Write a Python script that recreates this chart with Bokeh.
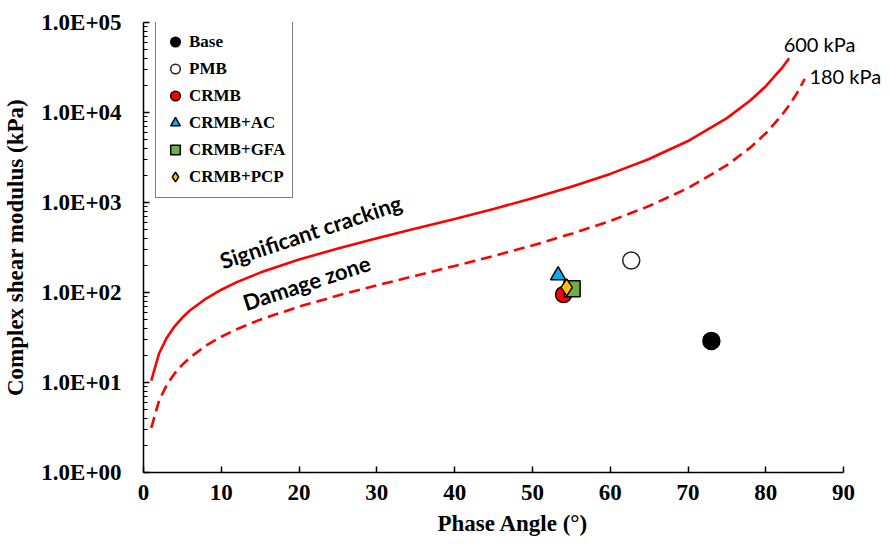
from bokeh.plotting import figure
from bokeh.models import Range1d, CustomJSTickFormatter, LogTicker, FixedTicker, Legend, LegendItem, Label
from bokeh.embed import file_html
from bokeh.resources import INLINE

# Curve 600 kPa (phase angle, complex shear modulus kPa)
ang600 = [1, 2, 3, 4, 5, 6, 8, 10, 12, 15, 20, 25, 30, 35, 40, 45, 50, 55, 60, 65, 70, 75, 78, 80, 82, 83]
g600 = [10.5, 21.0, 31.5, 42.1, 52.7, 63.4, 85.2, 107.4, 130.4, 166.4, 232.4, 308.7, 400, 512.9, 657.2, 848.5,
        1112, 1494, 2079, 3045, 4820, 8652, 13577, 19595, 30676, 40098]
# Curve 180 kPa
ang180 = [1, 2, 3, 4, 5, 6, 8, 10, 12, 15, 20, 25, 30, 35, 40, 45, 50, 55, 60, 65, 70, 75, 78, 80, 82, 83, 84, 85]
g180 = [3.14, 6.29, 9.45, 12.6, 15.8, 19.0, 25.6, 32.2, 39.1, 49.9, 69.7, 92.6, 120, 153.9, 197.2, 254.6,
        333.7, 448.2, 623.5, 913.4, 1446, 2596, 4073, 5879, 9203, 12029, 16384, 23607]

# Binder points
names = ["Base", "PMB", "CRMB", "CRMB+AC", "CRMB+GFA", "CRMB+PCP"]
phase = [73.0, 62.7, 54.0, 53.3, 55.1, 54.4]
modulus = [29, 227, 95, 155, 110, 114]

x_ticks = [0, 10, 20, 30, 40, 50, 60, 70, 80, 90]

p = figure(width=882, height=538, y_axis_type="log", output_backend="svg", toolbar_location=None,
           x_range=Range1d(0, 95), y_range=Range1d(1, 100000),
           min_border_left=143, min_border_right=0, min_border_top=22, min_border_bottom=66)
p.frame_width = 739
p.frame_height = 450
p.outline_line_color = None
p.grid.visible = False
p.background_fill_color = "white"

p.line(ang600, g600, line_color="#FF0000", line_width=2.6)
p.line(ang180, g180, line_color="#FF0000", line_width=2.6, line_dash="11 6")

markers = ["circle", "circle", "circle", "triangle", "square", "diamond"]
fills = ["black", "white", "#FF0000", "#00B0F0", "#70AD47", "#FFC000"]
lines = ["black", "#222222", "black", "black", "black", "black"]
sizes = [17, 17, 16, 15, 16, 17]
items = []
for i, n in enumerate(names):
    r = p.scatter([phase[i]], [modulus[i]], marker=markers[i], size=sizes[i], fill_color=fills[i],
                  line_color=lines[i], line_width=1.5)
    items.append(LegendItem(label=n, renderers=[r]))

legend = Legend(items=items, location=(12, 274), border_line_color="black", border_line_width=1.5,
                padding=7, spacing=0, glyph_height=27, glyph_width=24, label_standoff=2,
                label_text_font="Liberation Serif", label_text_font_style="bold", label_text_font_size="17px",
                label_text_color="black", label_height=27, margin=0, background_fill_alpha=1)
p.add_layout(legend)

# annotations
p.add_layout(Label(x=86.9, y=57000, text="600 kPa", text_font="Lato", text_font_size="20px",
                   text_align="center", text_baseline="middle", text_color="black"))
p.add_layout(Label(x=85.6, y=25700, text="180 kPa", text_font="Lato", text_font_size="20px",
                   text_align="left", text_baseline="middle", text_color="black"))
p.add_layout(Label(x=21.5, y=475, text="Significant cracking", text_font="Lato", text_font_size="22px",
                   text_font_style="bold", text_align="center", text_baseline="middle", angle=0.32,
                   text_color="black"))
p.add_layout(Label(x=20.95, y=129, text="Damage zone", text_font="Lato", text_font_size="22px",
                   text_font_style="bold", text_align="center", text_baseline="middle", angle=0.315,
                   text_color="black"))

# axes
p.yaxis.ticker = LogTicker(num_minor_ticks=10, desired_num_ticks=6)
p.yaxis.formatter = CustomJSTickFormatter(code="""
var s = tick.toExponential(1).toUpperCase();
return s.replace(/E([+-])(\\d)$/, 'E$10$2');
""")
p.xaxis.ticker = FixedTicker(ticks=x_ticks)
p.xaxis.bounds = (0, 90)
for ax in [p.xaxis[0], p.yaxis[0]]:
    ax.axis_line_color = "black"
    ax.axis_line_width = 1.5
    ax.major_tick_in = 6
    ax.major_tick_out = 0
    ax.major_tick_line_width = 1.5
    ax.major_tick_line_color = "black"
    ax.major_label_text_font = "Liberation Serif"
    ax.major_label_text_font_style = "bold"
    ax.major_label_text_font_size = "23px"
    ax.major_label_text_color = "black"
    ax.axis_label_text_font = "Liberation Serif"
    ax.axis_label_text_font_style = "bold"
    ax.axis_label_text_color = "black"
    ax.axis_label_text_font_size = "23px"
p.yaxis.minor_tick_in = 4
p.yaxis.minor_tick_out = 0
p.yaxis.minor_tick_line_color = "black"
p.yaxis.minor_tick_line_width = 1.2
p.xaxis.minor_tick_line_color = None
p.yaxis.major_label_standoff = 22
p.xaxis.major_label_standoff = 12
p.xaxis.axis_label = "Phase Angle (°)"
p.yaxis.axis_label = "Complex shear modulus (kPa)"
p.xaxis.axis_label_standoff = 8
p.yaxis.axis_label_standoff = 10

open("out.html", "w").write(file_html(p, INLINE))
